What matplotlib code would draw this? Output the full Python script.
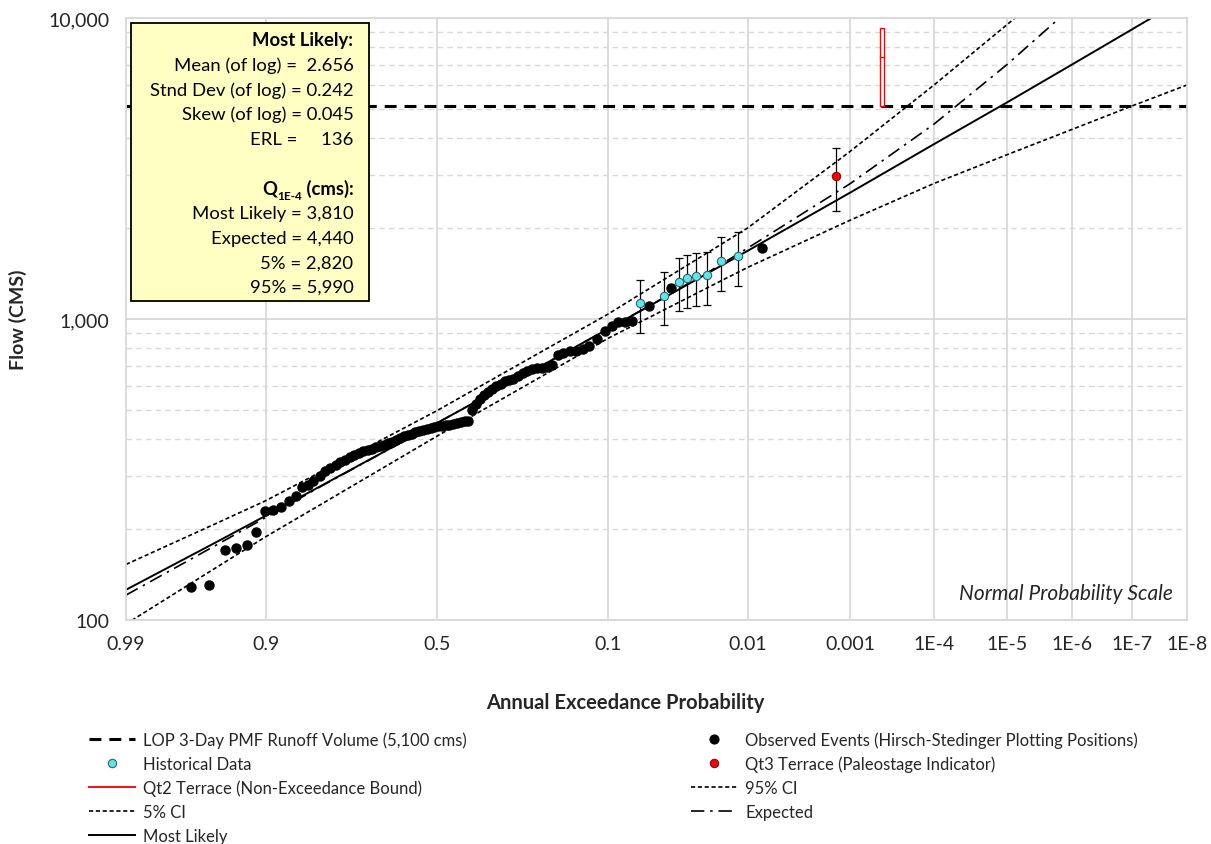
import math
import numpy as np
import matplotlib
matplotlib.use('Agg')
import matplotlib.pyplot as plt
from matplotlib.ticker import FixedLocator, FixedFormatter, NullFormatter, NullLocator, LogLocator
from matplotlib.lines import Line2D
from matplotlib.patches import Rectangle

plt.rcParams['font.family'] = ['Lato', 'DejaVu Sans']

# ---------------- data ----------------
x_ticks = [0.99, 0.9, 0.5, 0.1, 0.01, 0.001, 1e-4, 1e-5, 1e-6, 1e-7, 1e-8]
x_tick_labels = ['0.99', '0.9', '0.5', '0.1', '0.01', '0.001', '1E-4', '1E-5', '1E-6', '1E-7', '1E-8']
y_ticks = [100, 1000, 10000]
y_tick_labels = ['100', '1,000', '10,000']

obs_p = [0.967, 0.956, 0.9435, 0.934, 0.922, 0.912, 0.901, 0.890, 0.878, 0.866,
         0.854, 0.8435, 0.8325, 0.823, 0.809,
         0.799, 0.788, 0.776, 0.765, 0.754, 0.743, 0.732, 0.720, 0.709, 0.698,
         0.687, 0.676, 0.664, 0.653, 0.642, 0.631, 0.620, 0.608, 0.597, 0.586,
         0.575, 0.564, 0.552, 0.541, 0.530, 0.519, 0.508, 0.496, 0.485, 0.474,
         0.463, 0.452, 0.440, 0.429, 0.418, 0.407, 0.396, 0.384, 0.373, 0.362,
         0.351, 0.340, 0.328, 0.317, 0.306, 0.295, 0.284, 0.272, 0.261, 0.250,
         0.239, 0.228, 0.216, 0.205, 0.194, 0.183, 0.172, 0.160, 0.149, 0.138,
         0.127, 0.116, 0.104,
         0.095, 0.0877, 0.0797, 0.0722, 0.0562, 0.0399, 0.0075]
obs_q = [129, 131, 171, 174, 178, 196, 230, 232, 237, 248,
         258, 277, 281, 290, 301,
         313, 320, 328, 335, 341, 348, 354, 359, 363, 367,
         371, 375, 379, 382, 386, 391, 397, 403, 408, 412,
         416, 420, 424, 428, 431, 434, 437, 440, 442, 444,
         446, 448, 451, 454, 457, 460, 500, 520, 541, 558,
         571, 584, 598, 610, 620, 626, 633, 647, 661, 670,
         680, 686, 689, 693, 704, 762, 771, 780, 785, 793,
         815, 860, 915,
         950, 975, 979, 982, 1104, 1267, 1722]

hist_p = [0.0643, 0.0447, 0.0351, 0.0307, 0.0263, 0.0216, 0.0168, 0.0121]
hist_q = [1130, 1192, 1330, 1368, 1393, 1404, 1555, 1616]
hist_lo = [899, 955, 1061, 1085, 1105, 1113, 1242, 1284]
hist_hi = [1351, 1432, 1599, 1632, 1661, 1673, 1868, 1941]

qt3_p = [0.00142]
qt3_q = [2990]
qt3_lo = [2290]
qt3_hi = [3700]

qt2_p = [4.64e-4, 4.17e-4]
qt2_q = [5100, 7430, 9270]   # bottom, middle mark, top

pmf_q = 5100

ml_p = [0.99, 0.95, 0.9, 0.8, 0.5, 0.2, 0.1, 0.05, 0.02, 0.01, 0.001, 1e-4, 1e-5, 1e-6, 1e-7, 1e-8]
ml_q = [126, 182, 222, 283, 451, 723, 927, 1140, 1442, 1686, 2627, 3810, 5241, 7012, 9159, 11749]

exp_p = [0.99, 0.95, 0.9, 0.8, 0.5, 0.2, 0.1, 0.05, 0.02, 0.01, 0.001, 1e-4, 1e-5, 1e-6]
exp_q = [121, 178, 219, 282, 451, 723, 928, 1142, 1452, 1722, 2813, 4440, 7000, 10900]

ci95_p = [0.99, 0.95, 0.9, 0.8, 0.5, 0.2, 0.1, 0.05, 0.02, 0.01, 0.001, 1e-4, 1e-5, 1e-6]
ci95_q = [153, 210, 249, 315, 496, 806, 1039, 1307, 1691, 2009, 3600, 5990, 9500, 14450]

ci5_p = [0.99, 0.95, 0.9, 0.8, 0.5, 0.2, 0.1, 0.05, 0.02, 0.01, 0.001, 1e-4, 1e-5, 1e-6, 1e-7, 1e-8]
ci5_q = [97, 150, 189, 246, 408, 667, 863, 1042, 1290, 1485, 2128, 2820, 3513, 4267, 5100, 5990]

box_lines = ['Mean (of log) =  2.656', 'Stnd Dev (of log) = 0.242', 'Skew (of log) = 0.045',
             'ERL =     136']
box_q_lines = ['Most Likely = 3,810', 'Expected = 4,440', '5% = 2,820', '95% = 5,990']

# ---------------- normal probability scale ----------------
_a = [-3.969683028665376e+01, 2.209460984245205e+02, -2.759285104469687e+02,
      1.383577518672690e+02, -3.066479806614716e+01, 2.506628277459239e+00]
_b = [-5.447609879822406e+01, 1.615858368580409e+02, -1.556989798598866e+02,
      6.680131188771972e+01, -1.328068155288572e+01]
_c = [-7.784894002430293e-03, -3.223964580411365e-01, -2.400758277161838e+00,
      -2.549732539343734e+00, 4.374664141464968e+00, 2.938163982698783e+00]
_d = [7.784695709041462e-03, 3.224671290700398e-01, 2.445134137142996e+00,
      3.754408661907416e+00]


def _ppf(p):
    p = np.asarray(p, dtype=float)
    shape = p.shape
    p = np.clip(np.atleast_1d(p).ravel(), 1e-300, 1 - 1e-16)
    x = np.full(p.shape, np.nan)
    plow = 0.02425
    lo = p < plow
    hi = p > 1 - plow
    mid = ~(lo | hi) & np.isfinite(p)
    if lo.any():
        q = np.sqrt(-2 * np.log(p[lo]))
        x[lo] = (((((_c[0]*q+_c[1])*q+_c[2])*q+_c[3])*q+_c[4])*q+_c[5]) / \
                ((((_d[0]*q+_d[1])*q+_d[2])*q+_d[3])*q+1)
    if hi.any():
        q = np.sqrt(-2 * np.log(1 - p[hi]))
        x[hi] = -(((((_c[0]*q+_c[1])*q+_c[2])*q+_c[3])*q+_c[4])*q+_c[5]) / \
                ((((_d[0]*q+_d[1])*q+_d[2])*q+_d[3])*q+1)
    if mid.any():
        q = p[mid] - 0.5
        r = q * q
        x[mid] = (((((_a[0]*r+_a[1])*r+_a[2])*r+_a[3])*r+_a[4])*r+_a[5])*q / \
                 (((((_b[0]*r+_b[1])*r+_b[2])*r+_b[3])*r+_b[4])*r+1)
    return x.reshape(shape)


_erfc = np.vectorize(math.erfc, otypes=[float])


def fwd(p):           # probability -> standard normal variate (increasing)
    return _ppf(p)


def inv(z):
    z = np.asarray(z, dtype=float)
    return 0.5 * _erfc(-z / math.sqrt(2.0))


# ---------------- figure ----------------
fig = plt.figure(figsize=(12.11, 8.45), dpi=100)
ax = fig.add_axes([126/1211, 1 - 621/845, 1061/1211, 602/845])
ax.set_xscale('function', functions=(fwd, inv))
ax.set_yscale('log')
ax.set_xlim(0.99, 1e-8)
ax.set_ylim(100, 10000)

grid_c = '#D9D9D9'
ax.xaxis.set_major_locator(FixedLocator(x_ticks))
ax.xaxis.set_major_formatter(FixedFormatter(x_tick_labels))
ax.xaxis.set_minor_locator(NullLocator())
ax.yaxis.set_major_locator(FixedLocator(y_ticks))
ax.yaxis.set_major_formatter(FixedFormatter(y_tick_labels))
ax.yaxis.set_minor_locator(LogLocator(base=10, subs=np.arange(2, 10)))
ax.yaxis.set_minor_formatter(NullFormatter())
ax.grid(True, which='major', axis='both', color=grid_c, lw=1.3)
ax.grid(True, which='minor', axis='y', color=grid_c, lw=1.0, ls=(0, (4, 3)))
ax.set_axisbelow(True)
for s in ax.spines.values():
    s.set_color(grid_c)
    s.set_linewidth(1.3)
ax.tick_params(axis='both', which='both', length=0, labelsize=14, colors='#262626')
ax.tick_params(axis='x', pad=11)
ax.tick_params(axis='y', pad=12)

# lines
ax.axhline(pmf_q, color='black', lw=2.2, dashes=(3.9, 2.6), zorder=2)
ax.plot(ci95_p, ci95_q, color='black', lw=1.2, dashes=(2.5, 1.6), zorder=2)
ax.plot(ci5_p, ci5_q, color='black', lw=1.2, dashes=(2.5, 1.6), zorder=2)
ax.plot(exp_p, exp_q, color='black', lw=1.2, dashes=(8, 3.5, 1.5, 3.5), zorder=2)
ax.plot(ml_p, ml_q, color='black', lw=1.4, zorder=2)

# Qt2 terrace (non-exceedance bound box)
ax.fill([qt2_p[0], qt2_p[1], qt2_p[1], qt2_p[0]],
        [qt2_q[0], qt2_q[0], qt2_q[2], qt2_q[2]],
        facecolor='white', edgecolor='#FF0000', lw=1.0, zorder=3)
ax.plot(qt2_p, [qt2_q[1], qt2_q[1]], color='#FF0000', lw=1.0, zorder=3)

# observed points
ax.plot(obs_p, obs_q, 'o', color='black', ms=6.5, zorder=4)

# historical with error bars
h_q = np.array(hist_q)
ax.errorbar(hist_p, hist_q, yerr=[h_q - np.array(hist_lo), np.array(hist_hi) - h_q],
            fmt='none', ecolor='black', elinewidth=0.9, capsize=3, capthick=0.9, zorder=4)
ax.plot(hist_p, hist_q, 'o', color='#5CE6EC', mec='#3A5F60', mew=0.8, ms=6, zorder=5)

q3 = np.array(qt3_q)
ax.errorbar(qt3_p, qt3_q, yerr=[q3 - np.array(qt3_lo), np.array(qt3_hi) - q3],
            fmt='none', ecolor='black', elinewidth=0.9, capsize=3, capthick=0.9, zorder=4)
ax.plot(qt3_p, qt3_q, 'o', color='#FF0000', mec='#7A1010', mew=0.8, ms=6, zorder=5)

# annotation text box
box_fs = 13.3
ax.add_patch(Rectangle((0.0047, 0.5299), 0.2243, 0.4626, transform=ax.transAxes,
                       facecolor='#FFFFC4', edgecolor='black', lw=1.3, zorder=8))
xr = 0.2144


def yax(ypx):
    return 1 - (ypx - 19) / 602


ax.text(xr, yax(41), 'Most Likely:', transform=ax.transAxes, ha='right', va='center',
        fontsize=box_fs, weight='bold', zorder=9)
for i, s in enumerate(box_lines):
    ax.text(xr, yax(66 + 24.6 * i), s, transform=ax.transAxes, ha='right', va='center',
            fontsize=box_fs, zorder=9)
t_cms = ax.text(xr, yax(189), ' (cms):', transform=ax.transAxes, ha='right', va='center',
                fontsize=box_fs, weight='bold', zorder=9)
t_sub = ax.annotate('1E-4', xy=(0, 0.40), xycoords=t_cms, ha='right', va='top',
                    fontsize=8.5, weight='bold', zorder=9)
ax.annotate('Q', xy=(0, 0.5), xycoords=(t_sub, t_cms), ha='right', va='center',
            fontsize=box_fs, weight='bold', zorder=9)
for i, s in enumerate(box_q_lines):
    ax.text(xr, yax(214 + 24.6 * i), s, transform=ax.transAxes, ha='right', va='center',
            fontsize=box_fs, zorder=9)

ax.text(0.9868, 0.045, 'Normal Probability Scale', transform=ax.transAxes, ha='right',
        va='center', fontsize=15, style='italic', color='#262626')

# axis titles
fig.text(625/1211, 1 - 703/845, 'Annual Exceedance Probability', ha='center', va='center',
         fontsize=14.5, weight='bold', color='#262626')
fig.text(18/1211, 1 - 320/845, 'Flow (CMS)', ha='center', va='center', rotation=90,
         fontsize=14, weight='bold', color='#262626')

# legends
h_pmf = Line2D([], [], color='black', lw=2.2, dashes=(3.9, 2.6))
h_hist = Line2D([], [], ls='none', marker='o', color='#5CE6EC', mec='#3A5F60', mew=0.8, ms=6)
h_qt2 = Line2D([], [], color='#E02020', lw=1.5)
h_ci5 = Line2D([], [], color='black', lw=1.2, dashes=(2.5, 1.6))
h_ml = Line2D([], [], color='black', lw=1.4)
h_obs = Line2D([], [], ls='none', marker='o', color='black', ms=6.3)
h_qt3 = Line2D([], [], ls='none', marker='o', color='#FF0000', mec='#7A1010', mew=0.8, ms=6)
h_ci95 = Line2D([], [], color='black', lw=1.2, dashes=(2.5, 1.6))
h_exp = Line2D([], [], color='black', lw=1.2, dashes=(8, 3.5, 1.5, 3.5))

leg_kw = dict(frameon=False, fontsize=12, handlelength=2.75, handletextpad=0.5,
              labelspacing=0.48, borderpad=0, borderaxespad=0, loc='upper left',
              numpoints=1, bbox_transform=fig.transFigure)
leg1 = fig.legend([h_pmf, h_hist, h_qt2, h_ci5, h_ml],
                  ['LOP 3-Day PMF Runoff Volume (5,100 cms)', 'Historical Data',
                   'Qt2 Terrace (Non-Exceedance Bound)', '5% CI', 'Most Likely'],
                  bbox_to_anchor=(89/1211, 1 - 732/845), **leg_kw)
leg2 = fig.legend([h_obs, h_qt3, h_ci95, h_exp],
                  ['Observed Events (Hirsch-Stedinger Plotting Positions)',
                   'Qt3 Terrace (Paleostage Indicator)', '95% CI', 'Expected'],
                  bbox_to_anchor=(691/1211, 1 - 732/845), **leg_kw)
for lg in (leg1, leg2):
    for t in lg.get_texts():
        t.set_color('#262626')

fig.savefig('out.png', dpi=100)
